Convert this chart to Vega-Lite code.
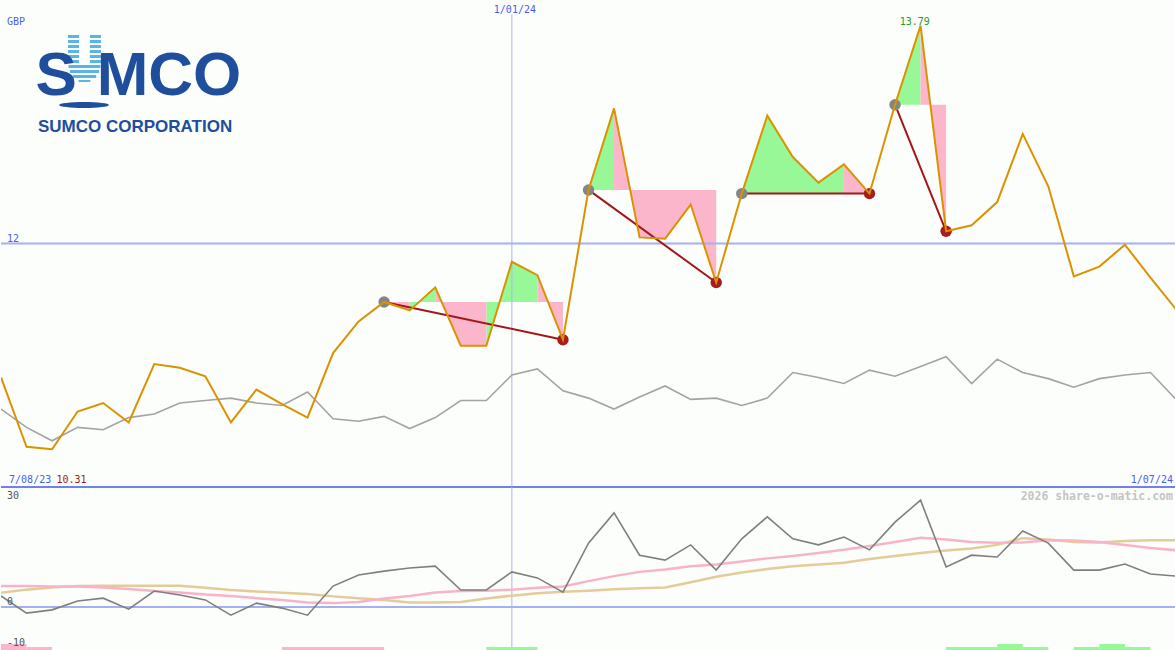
{
  "$schema": "https://vega.github.io/schema/vega-lite/v6.json",
  "background": "#fcfefb",
  "padding": 0,
  "spacing": 0,
  "bounds": "flush",
  "config": {"view": {"stroke": null}},
  "datasets": {
    "weekly": [
      {"date": "2023-08-14", "price": 10.90, "compare": 10.64, "osc": 3.1, "fast": 5.9, "slow": 4.0},
      {"date": "2023-08-21", "price": 10.33, "compare": 10.49, "osc": -1.7, "fast": 5.9, "slow": 4.9},
      {"date": "2023-08-28", "price": 10.31, "compare": 10.38, "osc": -0.8, "fast": 5.8, "slow": 5.5},
      {"date": "2023-09-04", "price": 10.62, "compare": 10.49, "osc": 1.7, "fast": 5.8, "slow": 5.9},
      {"date": "2023-09-11", "price": 10.69, "compare": 10.47, "osc": 2.5, "fast": 5.5, "slow": 6.0},
      {"date": "2023-09-18", "price": 10.53, "compare": 10.57, "osc": -0.6, "fast": 5.1, "slow": 6.0},
      {"date": "2023-09-25", "price": 11.01, "compare": 10.60, "osc": 4.5, "fast": 4.5, "slow": 6.0},
      {"date": "2023-10-02", "price": 10.98, "compare": 10.69, "osc": 3.4, "fast": 4.1, "slow": 6.0},
      {"date": "2023-10-09", "price": 10.91, "compare": 10.71, "osc": 2.0, "fast": 3.5, "slow": 5.4},
      {"date": "2023-10-16", "price": 10.53, "compare": 10.73, "osc": -2.3, "fast": 3.1, "slow": 4.8},
      {"date": "2023-10-23", "price": 10.80, "compare": 10.69, "osc": 1.1, "fast": 2.5, "slow": 4.4},
      {"date": "2023-10-30", "price": 10.68, "compare": 10.67, "osc": -0.3, "fast": 2.0, "slow": 4.0},
      {"date": "2023-11-06", "price": 10.57, "compare": 10.78, "osc": -2.3, "fast": 1.3, "slow": 3.7},
      {"date": "2023-11-13", "price": 11.10, "compare": 10.56, "osc": 5.9, "fast": 1.1, "slow": 3.0},
      {"date": "2023-11-20", "price": 11.36, "compare": 10.54, "osc": 9.0, "fast": 1.4, "slow": 2.5},
      {"date": "2023-11-27", "price": 11.52, "compare": 10.58, "osc": 10.1, "fast": 2.4, "slow": 2.0, "swing": "A", "marker": "start"},
      {"date": "2023-12-04", "price": 11.45, "compare": 10.48, "osc": 11.0, "fast": 3.1, "slow": 1.3, "swing": "A"},
      {"date": "2023-12-11", "price": 11.64, "compare": 10.57, "osc": 11.5, "fast": 4.1, "slow": 1.3, "swing": "A"},
      {"date": "2023-12-18", "price": 11.16, "compare": 10.71, "osc": 4.8, "fast": 4.5, "slow": 1.4, "swing": "A"},
      {"date": "2023-12-25", "price": 11.16, "compare": 10.71, "osc": 4.8, "fast": 4.6, "slow": 2.4, "swing": "A"},
      {"date": "2024-01-01", "price": 11.85, "compare": 10.92, "osc": 9.9, "fast": 4.9, "slow": 3.2, "swing": "A"},
      {"date": "2024-01-08", "price": 11.74, "compare": 10.97, "osc": 8.2, "fast": 5.4, "slow": 3.9, "swing": "A"},
      {"date": "2024-01-15", "price": 11.21, "compare": 10.79, "osc": 4.2, "fast": 5.8, "slow": 4.3, "swing": "A", "marker": "end"},
      {"date": "2024-01-22", "price": 12.44, "compare": 10.73, "osc": 18.0, "fast": 7.3, "slow": 4.6, "swing": "B", "marker": "start"},
      {"date": "2024-01-29", "price": 13.11, "compare": 10.64, "osc": 26.5, "fast": 8.7, "slow": 5.0, "swing": "B"},
      {"date": "2024-02-05", "price": 12.05, "compare": 10.74, "osc": 14.6, "fast": 9.9, "slow": 5.3, "swing": "B"},
      {"date": "2024-02-12", "price": 12.04, "compare": 10.83, "osc": 13.2, "fast": 10.6, "slow": 5.5, "swing": "B"},
      {"date": "2024-02-19", "price": 12.32, "compare": 10.72, "osc": 17.5, "fast": 11.5, "slow": 7.0, "swing": "B"},
      {"date": "2024-02-26", "price": 11.68, "compare": 10.73, "osc": 10.4, "fast": 12.0, "slow": 8.5, "swing": "B", "marker": "end"},
      {"date": "2024-03-04", "price": 12.41, "compare": 10.67, "osc": 19.2, "fast": 12.8, "slow": 9.7, "swing": "C", "marker": "start"},
      {"date": "2024-03-11", "price": 13.05, "compare": 10.73, "osc": 25.4, "fast": 13.7, "slow": 10.7, "swing": "C"},
      {"date": "2024-03-18", "price": 12.71, "compare": 10.94, "osc": 19.2, "fast": 14.4, "slow": 11.5, "swing": "C"},
      {"date": "2024-03-25", "price": 12.50, "compare": 10.90, "osc": 17.5, "fast": 15.2, "slow": 12.0, "swing": "C"},
      {"date": "2024-04-01", "price": 12.65, "compare": 10.85, "osc": 19.7, "fast": 16.1, "slow": 12.5, "swing": "C"},
      {"date": "2024-04-08", "price": 12.41, "compare": 10.96, "osc": 16.1, "fast": 17.2, "slow": 13.5, "swing": "C", "marker": "end"},
      {"date": "2024-04-15", "price": 13.14, "compare": 10.91, "osc": 23.9, "fast": 18.3, "slow": 14.4, "swing": "D", "marker": "start"},
      {"date": "2024-04-22", "price": 13.79, "compare": 10.99, "osc": 30.1, "fast": 19.5, "slow": 15.2, "swing": "D"},
      {"date": "2024-04-29", "price": 12.10, "compare": 11.07, "osc": 11.3, "fast": 19.0, "slow": 15.9, "swing": "D", "marker": "end"},
      {"date": "2024-05-06", "price": 12.15, "compare": 10.85, "osc": 14.6, "fast": 18.3, "slow": 16.5},
      {"date": "2024-05-13", "price": 12.34, "compare": 11.05, "osc": 14.1, "fast": 18.1, "slow": 17.5},
      {"date": "2024-05-20", "price": 12.90, "compare": 10.94, "osc": 21.4, "fast": 18.2, "slow": 19.4},
      {"date": "2024-05-27", "price": 12.47, "compare": 10.89, "osc": 18.0, "fast": 18.8, "slow": 19.0},
      {"date": "2024-06-03", "price": 11.73, "compare": 10.82, "osc": 10.4, "fast": 18.7, "slow": 18.3},
      {"date": "2024-06-10", "price": 11.81, "compare": 10.89, "osc": 10.4, "fast": 18.3, "slow": 18.2},
      {"date": "2024-06-17", "price": 11.99, "compare": 10.92, "osc": 12.1, "fast": 17.5, "slow": 18.6},
      {"date": "2024-06-24", "price": 11.72, "compare": 10.94, "osc": 9.3, "fast": 16.6, "slow": 18.8},
      {"date": "2024-07-01", "price": 11.46, "compare": 10.72, "osc": 8.7, "fast": 16.0, "slow": 18.8}
    ],
    "fills": [
      {"seg": "A1", "dir": "down", "date": "2023-11-27", "price": 11.52, "ref": 11.52},
      {"seg": "A1", "dir": "down", "date": "2023-12-04", "price": 11.45, "ref": 11.52},
      {"seg": "A2", "dir": "up", "date": "2023-12-04", "price": 11.45, "ref": 11.52},
      {"seg": "A2", "dir": "up", "date": "2023-12-11", "price": 11.64, "ref": 11.52},
      {"seg": "A3", "dir": "down", "date": "2023-12-11", "price": 11.64, "ref": 11.52},
      {"seg": "A3", "dir": "down", "date": "2023-12-18", "price": 11.16, "ref": 11.52},
      {"seg": "A3", "dir": "down", "date": "2023-12-25", "price": 11.16, "ref": 11.52},
      {"seg": "A4", "dir": "up", "date": "2023-12-25", "price": 11.16, "ref": 11.52},
      {"seg": "A4", "dir": "up", "date": "2024-01-01", "price": 11.85, "ref": 11.52},
      {"seg": "A4", "dir": "up", "date": "2024-01-08", "price": 11.74, "ref": 11.52},
      {"seg": "A5", "dir": "down", "date": "2024-01-08", "price": 11.74, "ref": 11.52},
      {"seg": "A5", "dir": "down", "date": "2024-01-15", "price": 11.21, "ref": 11.52},
      {"seg": "B1", "dir": "up", "date": "2024-01-22", "price": 12.44, "ref": 12.44},
      {"seg": "B1", "dir": "up", "date": "2024-01-29", "price": 13.11, "ref": 12.44},
      {"seg": "B2", "dir": "down", "date": "2024-01-29", "price": 13.11, "ref": 12.44},
      {"seg": "B2", "dir": "down", "date": "2024-02-05", "price": 12.05, "ref": 12.44},
      {"seg": "B2", "dir": "down", "date": "2024-02-12", "price": 12.04, "ref": 12.44},
      {"seg": "B2", "dir": "down", "date": "2024-02-19", "price": 12.32, "ref": 12.44},
      {"seg": "B2", "dir": "down", "date": "2024-02-26", "price": 11.68, "ref": 12.44},
      {"seg": "C1", "dir": "up", "date": "2024-03-04", "price": 12.41, "ref": 12.41},
      {"seg": "C1", "dir": "up", "date": "2024-03-11", "price": 13.05, "ref": 12.41},
      {"seg": "C1", "dir": "up", "date": "2024-03-18", "price": 12.71, "ref": 12.41},
      {"seg": "C1", "dir": "up", "date": "2024-03-25", "price": 12.50, "ref": 12.41},
      {"seg": "C1", "dir": "up", "date": "2024-04-01", "price": 12.65, "ref": 12.41},
      {"seg": "C2", "dir": "down", "date": "2024-04-01", "price": 12.65, "ref": 12.41},
      {"seg": "C2", "dir": "down", "date": "2024-04-08", "price": 12.41, "ref": 12.41},
      {"seg": "D1", "dir": "up", "date": "2024-04-15", "price": 13.14, "ref": 13.14},
      {"seg": "D1", "dir": "up", "date": "2024-04-22", "price": 13.79, "ref": 13.14},
      {"seg": "D2", "dir": "down", "date": "2024-04-22", "price": 13.79, "ref": 13.14},
      {"seg": "D2", "dir": "down", "date": "2024-04-29", "price": 12.10, "ref": 13.14}
    ],
    "signals": [
      {"start": "2023-08-14", "end": "2023-08-21", "level": 2, "dir": "down"},
      {"start": "2023-08-21", "end": "2023-08-28", "level": 1, "dir": "down"},
      {"start": "2023-10-30", "end": "2023-11-27", "level": 1, "dir": "down"},
      {"start": "2023-12-25", "end": "2024-01-08", "level": 1, "dir": "up"},
      {"start": "2024-04-29", "end": "2024-05-13", "level": 1, "dir": "up"},
      {"start": "2024-05-13", "end": "2024-05-20", "level": 2, "dir": "up"},
      {"start": "2024-05-20", "end": "2024-05-27", "level": 1, "dir": "up"},
      {"start": "2024-06-03", "end": "2024-06-10", "level": 1, "dir": "up"},
      {"start": "2024-06-10", "end": "2024-06-17", "level": 2, "dir": "up"},
      {"start": "2024-06-17", "end": "2024-06-24", "level": 1, "dir": "up"}
    ],
    "labels": [
      {"text": "GBP", "date": "2023-08-15T15:00:00Z", "value": 13.795, "role": "unit"},
      {"text": "12", "date": "2023-08-15T15:00:00Z", "value": 12.015, "role": "level"},
      {"text": "1/01/24", "date": "2024-01-01T20:00:00Z", "value": 13.896, "role": "mid"},
      {"text": "13.79", "date": "2024-04-20T10:00:00Z", "value": 13.795, "role": "high"},
      {"text": "7/08/23", "date": "2023-08-16T05:00:00Z", "value": 10.035, "role": "start"},
      {"text": "10.31", "date": "2023-08-29T05:00:00Z", "value": 10.035, "role": "low"},
      {"text": "1/07/24", "date": "2024-06-30T04:00:00Z", "value": 10.035, "role": "end"}
    ],
    "logo": [
      {"text": "U", "date": "2023-09-05T21:00:00Z", "value": 13.52, "part": "accent"},
      {"text": "S", "date": "2023-08-23T11:00:00Z", "value": 13.22, "part": "mark"},
      {"text": "MCO", "date": "2023-09-09T05:00:00Z", "value": 13.22, "part": "mark"},
      {"text": "SUMCO CORPORATION", "date": "2023-08-24T03:00:00Z", "value": 12.913, "part": "name"},
      {"text": "", "date": "2023-09-05T18:00:00Z", "value": 13.138, "part": "base"}
    ],
    "oscLabels": [
      {"text": "30", "date": "2023-08-15T15:00:00Z", "value": 30.3, "role": "tick"},
      {"text": "0", "date": "2023-08-15T15:00:00Z", "value": 0.5, "role": "tick"},
      {"text": "-10", "date": "2023-08-15T15:00:00Z", "value": -11.1, "role": "tick"},
      {"text": "2026 share-o-matic.com", "date": "2024-06-30T04:00:00Z", "value": 30.1, "role": "credit"}
    ]
  },
  "vconcat": [
    {
      "width": 1175,
      "height": 487,
      "layer": [
        {
          "data": {"name": "fills"},
          "transform": [{"filter": "datum.dir === 'up'"}],
          "mark": {"type": "area", "color": "#98f898", "opacity": 1},
          "encoding": {
            "x": {"field": "date", "type": "temporal", "scale": {"type": "utc", "domain": [{"year": 2023, "month": 8, "date": 14, "utc": true}, {"year": 2024, "month": 7, "date": 1, "utc": true}]}, "axis": null},
            "y": {"field": "price", "type": "quantitative", "scale": {"domain": [10, 14], "nice": false, "zero": false}, "axis": null},
            "y2": {"field": "ref"},
            "detail": {"field": "seg"}
          }
        },
        {
          "data": {"name": "fills"},
          "transform": [{"filter": "datum.dir === 'down'"}],
          "mark": {"type": "area", "color": "#fbb6cb", "opacity": 1},
          "encoding": {
            "x": {"field": "date", "type": "temporal", "scale": {"type": "utc", "domain": [{"year": 2023, "month": 8, "date": 14, "utc": true}, {"year": 2024, "month": 7, "date": 1, "utc": true}]}, "axis": null},
            "y": {"field": "price", "type": "quantitative", "scale": {"domain": [10, 14], "nice": false, "zero": false}, "axis": null},
            "y2": {"field": "ref"},
            "detail": {"field": "seg"}
          }
        },
        {
          "data": {"values": [{"level": 12}]},
          "mark": {"type": "rule", "color": "#a3b0f2", "strokeWidth": 2},
          "encoding": {
            "y": {"field": "level", "type": "quantitative", "scale": {"domain": [10, 14], "nice": false, "zero": false}, "axis": null}
          }
        },
        {
          "data": {"values": [{"date": "2024-01-01"}]},
          "mark": {"type": "rule", "color": "#aab4f0", "strokeWidth": 1},
          "encoding": {
            "x": {"field": "date", "type": "temporal", "scale": {"type": "utc", "domain": [{"year": 2023, "month": 8, "date": 14, "utc": true}, {"year": 2024, "month": 7, "date": 1, "utc": true}]}, "axis": null},
            "y": {"datum": 13.88, "type": "quantitative", "scale": {"domain": [10, 14], "nice": false, "zero": false}, "axis": null},
            "y2": {"datum": 10}
          }
        },
        {
          "data": {"name": "weekly"},
          "mark": {"type": "line", "color": "#a3a3a3", "strokeWidth": 1.6, "clip": true},
          "encoding": {
            "x": {"field": "date", "type": "temporal", "scale": {"type": "utc", "domain": [{"year": 2023, "month": 8, "date": 14, "utc": true}, {"year": 2024, "month": 7, "date": 1, "utc": true}]}, "axis": null},
            "y": {"field": "compare", "type": "quantitative", "scale": {"domain": [10, 14], "nice": false, "zero": false}, "axis": null}
          }
        },
        {
          "data": {"name": "weekly"},
          "transform": [{"filter": "datum.marker != null"}],
          "mark": {"type": "line", "color": "#a3161a", "strokeWidth": 2},
          "encoding": {
            "x": {"field": "date", "type": "temporal", "scale": {"type": "utc", "domain": [{"year": 2023, "month": 8, "date": 14, "utc": true}, {"year": 2024, "month": 7, "date": 1, "utc": true}]}, "axis": null},
            "y": {"field": "price", "type": "quantitative", "scale": {"domain": [10, 14], "nice": false, "zero": false}, "axis": null},
            "detail": {"field": "swing"}
          }
        },
        {
          "data": {"name": "weekly"},
          "transform": [{"filter": "datum.marker === 'start'"}],
          "mark": {"type": "circle", "size": 130, "color": "#858585", "opacity": 1},
          "encoding": {
            "x": {"field": "date", "type": "temporal", "scale": {"type": "utc", "domain": [{"year": 2023, "month": 8, "date": 14, "utc": true}, {"year": 2024, "month": 7, "date": 1, "utc": true}]}, "axis": null},
            "y": {"field": "price", "type": "quantitative", "scale": {"domain": [10, 14], "nice": false, "zero": false}, "axis": null}
          }
        },
        {
          "data": {"name": "weekly"},
          "transform": [{"filter": "datum.marker === 'end'"}],
          "mark": {"type": "circle", "size": 130, "color": "#a81c1c", "opacity": 1},
          "encoding": {
            "x": {"field": "date", "type": "temporal", "scale": {"type": "utc", "domain": [{"year": 2023, "month": 8, "date": 14, "utc": true}, {"year": 2024, "month": 7, "date": 1, "utc": true}]}, "axis": null},
            "y": {"field": "price", "type": "quantitative", "scale": {"domain": [10, 14], "nice": false, "zero": false}, "axis": null}
          }
        },
        {
          "data": {"name": "weekly"},
          "mark": {"type": "line", "color": "#db9200", "strokeWidth": 2, "clip": true},
          "encoding": {
            "x": {"field": "date", "type": "temporal", "scale": {"type": "utc", "domain": [{"year": 2023, "month": 8, "date": 14, "utc": true}, {"year": 2024, "month": 7, "date": 1, "utc": true}]}, "axis": null},
            "y": {"field": "price", "type": "quantitative", "scale": {"domain": [10, 14], "nice": false, "zero": false}, "axis": null}
          }
        },
        {
          "data": {"name": "labels"},
          "transform": [{"filter": {"field": "role", "oneOf": ["unit", "level", "start"]}}],
          "mark": {"type": "text", "align": "left", "baseline": "alphabetic", "font": "DejaVu Sans Mono", "fontSize": 10, "color": "#4a5cf0"},
          "encoding": {
            "x": {"field": "date", "type": "temporal", "scale": {"type": "utc", "domain": [{"year": 2023, "month": 8, "date": 14, "utc": true}, {"year": 2024, "month": 7, "date": 1, "utc": true}]}, "axis": null},
            "y": {"field": "value", "type": "quantitative", "scale": {"domain": [10, 14], "nice": false, "zero": false}, "axis": null},
            "text": {"field": "text"}
          }
        },
        {
          "data": {"name": "labels"},
          "transform": [{"filter": {"field": "role", "oneOf": ["mid"]}}],
          "mark": {"type": "text", "align": "center", "baseline": "alphabetic", "font": "DejaVu Sans Mono", "fontSize": 10, "color": "#4a5cf0"},
          "encoding": {
            "x": {"field": "date", "type": "temporal", "scale": {"type": "utc", "domain": [{"year": 2023, "month": 8, "date": 14, "utc": true}, {"year": 2024, "month": 7, "date": 1, "utc": true}]}, "axis": null},
            "y": {"field": "value", "type": "quantitative", "scale": {"domain": [10, 14], "nice": false, "zero": false}, "axis": null},
            "text": {"field": "text"}
          }
        },
        {
          "data": {"name": "labels"},
          "transform": [{"filter": {"field": "role", "oneOf": ["end"]}}],
          "mark": {"type": "text", "align": "right", "baseline": "alphabetic", "font": "DejaVu Sans Mono", "fontSize": 10, "color": "#4a5cf0"},
          "encoding": {
            "x": {"field": "date", "type": "temporal", "scale": {"type": "utc", "domain": [{"year": 2023, "month": 8, "date": 14, "utc": true}, {"year": 2024, "month": 7, "date": 1, "utc": true}]}, "axis": null},
            "y": {"field": "value", "type": "quantitative", "scale": {"domain": [10, 14], "nice": false, "zero": false}, "axis": null},
            "text": {"field": "text"}
          }
        },
        {
          "data": {"name": "labels"},
          "transform": [{"filter": {"field": "role", "oneOf": ["low"]}}],
          "mark": {"type": "text", "align": "left", "baseline": "alphabetic", "font": "DejaVu Sans Mono", "fontSize": 10, "color": "#a31a1a"},
          "encoding": {
            "x": {"field": "date", "type": "temporal", "scale": {"type": "utc", "domain": [{"year": 2023, "month": 8, "date": 14, "utc": true}, {"year": 2024, "month": 7, "date": 1, "utc": true}]}, "axis": null},
            "y": {"field": "value", "type": "quantitative", "scale": {"domain": [10, 14], "nice": false, "zero": false}, "axis": null},
            "text": {"field": "text"}
          }
        },
        {
          "data": {"name": "labels"},
          "transform": [{"filter": {"field": "role", "oneOf": ["high"]}}],
          "mark": {"type": "text", "align": "center", "baseline": "alphabetic", "font": "DejaVu Sans Mono", "fontSize": 10, "color": "#1f9a2a"},
          "encoding": {
            "x": {"field": "date", "type": "temporal", "scale": {"type": "utc", "domain": [{"year": 2023, "month": 8, "date": 14, "utc": true}, {"year": 2024, "month": 7, "date": 1, "utc": true}]}, "axis": null},
            "y": {"field": "value", "type": "quantitative", "scale": {"domain": [10, 14], "nice": false, "zero": false}, "axis": null},
            "text": {"field": "text"}
          }
        },
        {
          "data": {"name": "logo"},
          "transform": [{"filter": "datum.part === 'accent'"}],
          "mark": {"type": "point", "shape": "M-0.7 -1H-0.23V-0.872H-0.7Z M0.23 -1H0.7V-0.872H0.23Z M-0.7 -0.787H-0.23V-0.66H-0.7Z M0.23 -0.787H0.7V-0.66H0.23Z M-0.7 -0.574H-0.23V-0.447H-0.7Z M0.23 -0.574H0.7V-0.447H0.23Z M-0.7 -0.362H-0.23V-0.234H-0.7Z M0.23 -0.362H0.7V-0.234H0.23Z M-0.7 -0.149H-0.23V-0.021H-0.7Z M0.23 -0.149H0.7V-0.021H0.23Z M-0.7 0.064H-0.23V0.191H-0.7Z M0.23 0.064H0.7V0.191H0.23Z M-0.68 0.277H0.68V0.404H-0.68Z M-0.62 0.489H0.62V0.617H-0.62Z M-0.5 0.702H0.5V0.83H-0.5Z M-0.25 0.915H0.25V1H-0.25Z", "size": 2209, "filled": true, "color": "#5ab4e6", "opacity": 1},
          "encoding": {
            "x": {"field": "date", "type": "temporal", "scale": {"type": "utc", "domain": [{"year": 2023, "month": 8, "date": 14, "utc": true}, {"year": 2024, "month": 7, "date": 1, "utc": true}]}, "axis": null},
            "y": {"field": "value", "type": "quantitative", "scale": {"domain": [10, 14], "nice": false, "zero": false}, "axis": null}
          }
        },
        {
          "data": {"name": "logo"},
          "transform": [{"filter": "datum.part === 'mark'"}],
          "mark": {"type": "text", "align": "left", "baseline": "alphabetic", "font": "Liberation Sans", "fontWeight": "bold", "fontSize": 62, "color": "#1e4e9c"},
          "encoding": {
            "x": {"field": "date", "type": "temporal", "scale": {"type": "utc", "domain": [{"year": 2023, "month": 8, "date": 14, "utc": true}, {"year": 2024, "month": 7, "date": 1, "utc": true}]}, "axis": null},
            "y": {"field": "value", "type": "quantitative", "scale": {"domain": [10, 14], "nice": false, "zero": false}, "axis": null},
            "text": {"field": "text"}
          }
        },
        {
          "data": {"name": "logo"},
          "transform": [{"filter": "datum.part === 'name'"}],
          "mark": {"type": "text", "align": "left", "baseline": "alphabetic", "font": "Liberation Sans", "fontWeight": "bold", "fontSize": 17, "color": "#1e4e9c"},
          "encoding": {
            "x": {"field": "date", "type": "temporal", "scale": {"type": "utc", "domain": [{"year": 2023, "month": 8, "date": 14, "utc": true}, {"year": 2024, "month": 7, "date": 1, "utc": true}]}, "axis": null},
            "y": {"field": "value", "type": "quantitative", "scale": {"domain": [10, 14], "nice": false, "zero": false}, "axis": null},
            "text": {"field": "text"}
          }
        },
        {
          "data": {"name": "logo"},
          "transform": [{"filter": "datum.part === 'base'"}],
          "mark": {"type": "point", "shape": "M -1 0 A 1 0.12 0 1 0 1 0 A 1 0.12 0 1 0 -1 0 Z", "size": 2500, "filled": true, "color": "#1e4e9c", "opacity": 1},
          "encoding": {
            "x": {"field": "date", "type": "temporal", "scale": {"type": "utc", "domain": [{"year": 2023, "month": 8, "date": 14, "utc": true}, {"year": 2024, "month": 7, "date": 1, "utc": true}]}, "axis": null},
            "y": {"field": "value", "type": "quantitative", "scale": {"domain": [10, 14], "nice": false, "zero": false}, "axis": null}
          }
        },
        {
          "data": {"values": [{"level": 10}]},
          "mark": {"type": "rule", "color": "#7080ee", "strokeWidth": 2},
          "encoding": {
            "y": {"field": "level", "type": "quantitative", "scale": {"domain": [10, 14], "nice": false, "zero": false}, "axis": null}
          }
        }
      ]
    },
    {
      "width": 1175,
      "height": 163,
      "resolve": {"scale": {"y": "independent"}},
      "layer": [
        {
          "data": {"values": [{"level": 0}]},
          "mark": {"type": "rule", "color": "#a3b0f2", "strokeWidth": 2},
          "encoding": {
            "y": {"field": "level", "type": "quantitative", "scale": {"domain": [-12.1, 33.8], "nice": false, "zero": false}, "axis": null}
          }
        },
        {
          "data": {"values": [{"date": "2024-01-01"}]},
          "mark": {"type": "rule", "color": "#aab4f0", "strokeWidth": 1},
          "encoding": {
            "x": {"field": "date", "type": "temporal", "scale": {"type": "utc", "domain": [{"year": 2023, "month": 8, "date": 14, "utc": true}, {"year": 2024, "month": 7, "date": 1, "utc": true}]}, "axis": null}
          }
        },
        {
          "data": {"name": "signals"},
          "transform": [{"filter": "datum.dir === 'down'"}],
          "mark": {"type": "rect", "color": "#fbb6cb", "opacity": 1},
          "encoding": {
            "x": {"field": "start", "type": "temporal", "scale": {"type": "utc", "domain": [{"year": 2023, "month": 8, "date": 14, "utc": true}, {"year": 2024, "month": 7, "date": 1, "utc": true}]}, "axis": null},
            "x2": {"field": "end"},
            "y": {"field": "level", "type": "quantitative", "scale": {"domain": [0, 54], "nice": false, "zero": false}, "axis": null},
            "y2": {"datum": 0}
          }
        },
        {
          "data": {"name": "signals"},
          "transform": [{"filter": "datum.dir === 'up'"}],
          "mark": {"type": "rect", "color": "#98f898", "opacity": 1},
          "encoding": {
            "x": {"field": "start", "type": "temporal", "scale": {"type": "utc", "domain": [{"year": 2023, "month": 8, "date": 14, "utc": true}, {"year": 2024, "month": 7, "date": 1, "utc": true}]}, "axis": null},
            "x2": {"field": "end"},
            "y": {"field": "level", "type": "quantitative", "scale": {"domain": [0, 54], "nice": false, "zero": false}, "axis": null},
            "y2": {"datum": 0}
          }
        },
        {
          "data": {"name": "weekly"},
          "mark": {"type": "line", "color": "#e3cc99", "strokeWidth": 2.5, "clip": true},
          "encoding": {
            "x": {"field": "date", "type": "temporal", "scale": {"type": "utc", "domain": [{"year": 2023, "month": 8, "date": 14, "utc": true}, {"year": 2024, "month": 7, "date": 1, "utc": true}]}, "axis": null},
            "y": {"field": "slow", "type": "quantitative", "scale": {"domain": [-12.1, 33.8], "nice": false, "zero": false}, "axis": null}
          }
        },
        {
          "data": {"name": "weekly"},
          "mark": {"type": "line", "color": "#f9b3c9", "strokeWidth": 2.5, "clip": true},
          "encoding": {
            "x": {"field": "date", "type": "temporal", "scale": {"type": "utc", "domain": [{"year": 2023, "month": 8, "date": 14, "utc": true}, {"year": 2024, "month": 7, "date": 1, "utc": true}]}, "axis": null},
            "y": {"field": "fast", "type": "quantitative", "scale": {"domain": [-12.1, 33.8], "nice": false, "zero": false}, "axis": null}
          }
        },
        {
          "data": {"name": "weekly"},
          "mark": {"type": "line", "color": "#7f7f7f", "strokeWidth": 1.6, "clip": true},
          "encoding": {
            "x": {"field": "date", "type": "temporal", "scale": {"type": "utc", "domain": [{"year": 2023, "month": 8, "date": 14, "utc": true}, {"year": 2024, "month": 7, "date": 1, "utc": true}]}, "axis": null},
            "y": {"field": "osc", "type": "quantitative", "scale": {"domain": [-12.1, 33.8], "nice": false, "zero": false}, "axis": null}
          }
        },
        {
          "data": {"name": "oscLabels"},
          "transform": [{"filter": "datum.role === 'tick'"}],
          "mark": {"type": "text", "align": "left", "baseline": "alphabetic", "font": "DejaVu Sans Mono", "fontSize": 10, "color": "#555555"},
          "encoding": {
            "x": {"field": "date", "type": "temporal", "scale": {"type": "utc", "domain": [{"year": 2023, "month": 8, "date": 14, "utc": true}, {"year": 2024, "month": 7, "date": 1, "utc": true}]}, "axis": null},
            "y": {"field": "value", "type": "quantitative", "scale": {"domain": [-12.1, 33.8], "nice": false, "zero": false}, "axis": null},
            "text": {"field": "text"}
          }
        },
        {
          "data": {"name": "oscLabels"},
          "transform": [{"filter": "datum.role === 'credit'"}],
          "mark": {"type": "text", "align": "right", "baseline": "alphabetic", "font": "DejaVu Sans Mono", "fontWeight": "bold", "fontSize": 11.5, "color": "#c4c4c4"},
          "encoding": {
            "x": {"field": "date", "type": "temporal", "scale": {"type": "utc", "domain": [{"year": 2023, "month": 8, "date": 14, "utc": true}, {"year": 2024, "month": 7, "date": 1, "utc": true}]}, "axis": null},
            "y": {"field": "value", "type": "quantitative", "scale": {"domain": [-12.1, 33.8], "nice": false, "zero": false}, "axis": null},
            "text": {"field": "text"}
          }
        }
      ]
    }
  ]
}
